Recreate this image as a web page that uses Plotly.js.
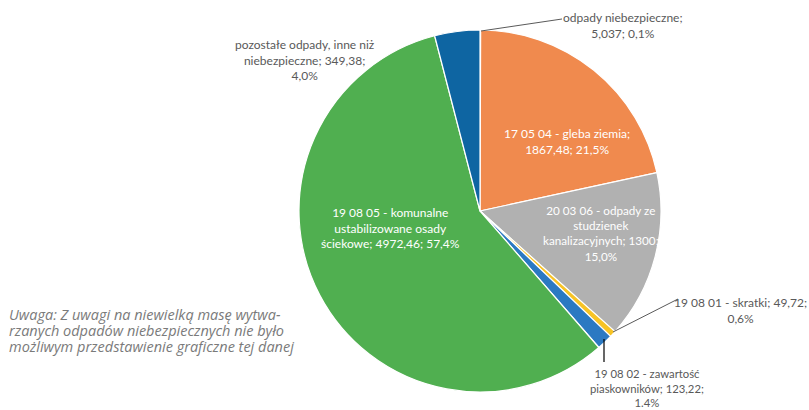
<!DOCTYPE html>
<html><head><meta charset="utf-8">
<script src="https://cdn.plot.ly/plotly-3.0.1.min.js"></script>
<style>html,body{margin:0;padding:0;background:#fff}#chart{width:809px;height:410px}</style>
</head><body><div id="chart"></div>
<script>
const categories = [
  "odpady niebezpieczne",
  "17 05 04 - gleba ziemia",
  "20 03 06 - odpady ze studzienek kanalizacyjnych",
  "19 08 01 - skratki",
  "19 08 02 - zawartość piaskowników",
  "19 08 05 - komunalne ustabilizowane osady ściekowe",
  "pozostałe odpady, inne niż niebezpieczne"
];
const values = [5.037, 1867.48, 1300, 49.72, 123.22, 4972.46, 349.38];
const colors = ["#9DC3E6", "#F08A4E", "#B1B1B1", "#F7C325", "#2B79C2", "#50AF50", "#0E65A2"];
const labelTexts = [
  "odpady niebezpieczne;<br>5,037; 0,1%",
  "17 05 04 - gleba ziemia;<br>1867,48; 21,5%",
  "20 03 06 - odpady ze<br>studzienek<br>kanalizacyjnych; 1300;<br>15,0%",
  "19 08 01 - skratki; 49,72;<br>0,6%",
  "19 08 02 - zawartość<br>piaskowników; 123,22;<br>1.4%",
  "19 08 05 - komunalne<br>ustabilizowane osady<br>ściekowe; 4972,46; 57,4%",
  "pozostałe odpady, inne niż<br>niebezpieczne; 349,38;<br>4,0%"
];
const insideLabel = [false, true, true, false, false, true, false];
const noteLines = [
  "Uwaga: Z uwagi na niewielką masę wytwa-",
  "rzanych odpadów niebezpiecznych nie było",
  "możliwym przedstawienie graficzne tej danej"
];

const W = 809, H = 410;
const px = x => x / W, py = y => 1 - y / H;
// label anchor positions (pixels, centre of text block)
const labelPos = [[623, 25], [567, 141], [601, 233], [740, 310], [647, 388], [390, 228], [305, 60]];
const labelSize = [12, 12, 11.7, 12, 11.3, 12, 12];

const annotations = labelTexts.map((t, i) => ({
  text: t, x: px(labelPos[i][0]), y: py(labelPos[i][1]), xref: 'paper', yref: 'paper',
  xanchor: 'center', yanchor: 'middle', showarrow: false, align: 'center',
  font: {family: 'Lato, sans-serif', size: labelSize[i], color: insideLabel[i] ? '#ffffff' : '#595959'}
}));
noteLines.forEach((t, i) => annotations.push({
  text: t, x: px(8), y: py(314 + 16 * i), xref: 'paper', yref: 'paper',
  xanchor: 'left', yanchor: 'middle', showarrow: false, align: 'left', borderpad: 0,
  font: {family: 'Open Sans, sans-serif', size: 14.5, color: '#7a7a7a', style: 'italic'}
}));

const line = {color: '#5a5a5a', width: 1};
const shapeList = [
  {type: 'line', x0: px(481), y0: py(31), x1: px(562), y1: py(19), xref: 'paper', yref: 'paper', line},
  {type: 'line', x0: px(613), y0: py(332), x1: px(678), y1: py(299), xref: 'paper', yref: 'paper', line},
  {type: 'line', x0: px(604), y0: py(339), x1: px(604), y1: py(362), xref: 'paper', yref: 'paper', line: {color: '#000', width: 1.2}}
];

const data = [{
  type: 'pie', labels: categories, values: values, sort: false, direction: 'clockwise', rotation: 0,
  marker: {colors: colors, line: {color: '#ffffff', width: 1.2}},
  textinfo: 'none', hoverinfo: 'label+value+percent',
  domain: {x: [px(299), px(661)], y: [py(392), py(30)]},
  showlegend: false
}];
const layout = {
  width: W, height: H, margin: {l: 0, r: 0, t: 0, b: 0},
  paper_bgcolor: '#ffffff', plot_bgcolor: '#ffffff',
  showlegend: false, annotations: annotations, shapes: shapeList
};
Plotly.newPlot('chart', data, layout, {displayModeBar: false, staticPlot: true});
</script></body></html>
